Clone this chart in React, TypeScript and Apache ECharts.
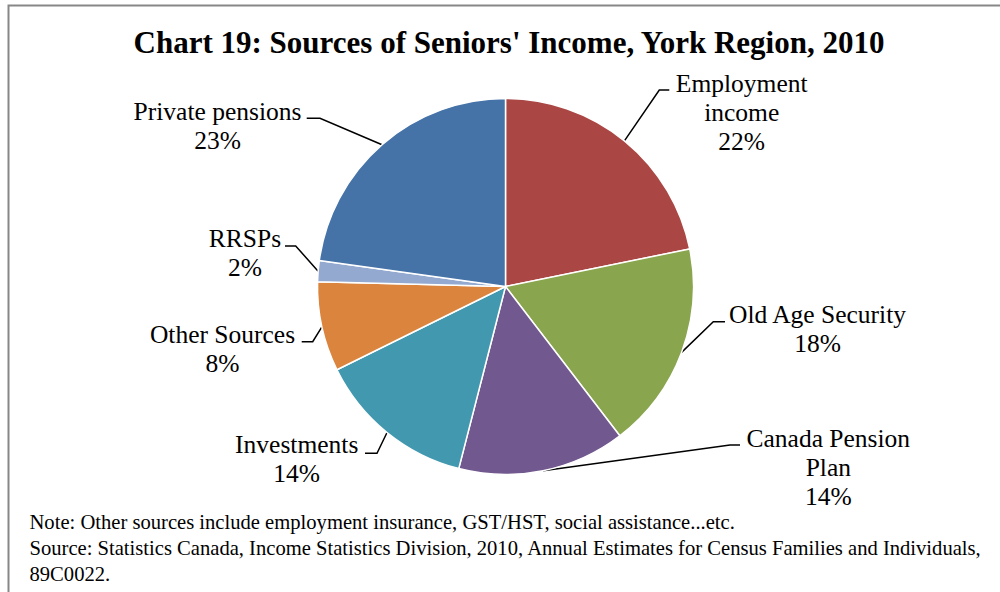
import React, { useEffect, useRef } from "react";
import * as echarts from "echarts";

const categories = [
  "Employment\nincome",
  "Old Age Security",
  "Canada Pension\nPlan",
  "Investments",
  "Other Sources",
  "RRSPs",
  "Private pensions",
];
const shares = [21.8, 17.8, 14.4, 13.7, 7.7, 1.8, 22.8];
const colors = ["#AA4643", "#89A54E", "#71588F", "#4198AF", "#DB843D", "#93A9CF", "#4572A7"];

const titleText = "Chart 19: Sources of Seniors' Income, York Region, 2010";
const noteLines = [
  "Note: Other sources include employment insurance, GST/HST, social assistance...etc.",
  "Source: Statistics Canada, Income Statistics Division, 2010, Annual Estimates for Census Families and Individuals,",
  "89C0022.",
];

// label placement: [centerX, firstLineCenterY, elbowX, elbowY, endX, endY]
const labelPlacement: number[][] = [
  [741.7, 83.3, 659.3, 90, 669.3, 90],
  [817.5, 314.9, 713.3, 321.7, 725, 321.7],
  [828.3, 438.3, 730, 445, 740, 445],
  [296.7, 444.9, 377, 453.3, 365, 453.3],
  [222.5, 334.9, 312.7, 341.7, 301.7, 341.7],
  [245, 238.3, 295.7, 246, 285, 246],
  [217.5, 111.6, 320, 118.3, 306.7, 118.3],
];

const FONT = "'Liberation Serif', 'Times New Roman', serif";
const LABEL_SIZE = 25.5;
const LINE_H = 29;

export default function App() {
  const ref = useRef<HTMLDivElement>(null);
  useEffect(() => {
    if (!ref.current) return;
    const chart = echarts.init(ref.current, null, { renderer: "svg" });
    chart.setOption({
      animation: false,
      backgroundColor: "#ffffff",
      graphic: [
        {
          type: "polyline",
          silent: true,
          shape: { points: [[8.5, 592], [8.5, 5.5], [1000, 5.5]] },
          style: { stroke: "#878787", lineWidth: 2, fill: null },
        },
        {
          type: "text",
          x: 509,
          y: 42.8,
          style: {
            text: titleText,
            font: `bold 31px ${FONT}`,
            fill: "#000",
            align: "center",
            verticalAlign: "middle",
          },
        },
        ...noteLines.map((t, i) => ({
          type: "text",
          x: 29.5,
          y: 522 + i * 26,
          style: {
            text: t,
            font: `20.6px ${FONT}`,
            fill: "#000",
            align: "left",
            verticalAlign: "middle",
          },
        })),
      ],
      series: [
        {
          type: "pie",
          center: [505.5, 286.5],
          radius: [0, 188],
          startAngle: 90,
          clockwise: true,
          avoidLabelOverlap: false,
          itemStyle: { borderColor: "#ffffff", borderWidth: 1.5 },
          label: {
            show: true,
            position: "outside",
            fontFamily: FONT,
            fontSize: LABEL_SIZE,
            lineHeight: LINE_H,
            color: "#000",
            formatter: (p: any) => `${p.name}\n${Math.round(p.percent)}%`,
          },
          labelLine: {
            show: true,
            length: 20,
            length2: 10,
            lineStyle: { color: "#000", width: 1.5 },
          },
          labelLayout: (params: any) => {
            const pl = labelPlacement[params.dataIndex];
            const out: any = {
              x: pl[0],
              y: pl[1] - LINE_H / 2,
              align: "center",
              verticalAlign: "top",
            };
            if (params.labelLinePoints && params.labelLinePoints[0]) {
              const p0 = params.labelLinePoints[0];
              out.labelLinePoints = [
                [p0[0], p0[1]],
                [pl[2], pl[3]],
                [pl[4], pl[5]],
              ];
            }
            return out;
          },
          data: categories.map((c, i) => ({
            name: c,
            value: shares[i],
            itemStyle: { color: colors[i] },
          })),
        },
      ],
    });
    return () => chart.dispose();
  }, []);
  return (
    <div
      ref={ref}
      style={{ position: "absolute", left: 0, top: 0, width: 1000, height: 592 }}
    />
  );
}
